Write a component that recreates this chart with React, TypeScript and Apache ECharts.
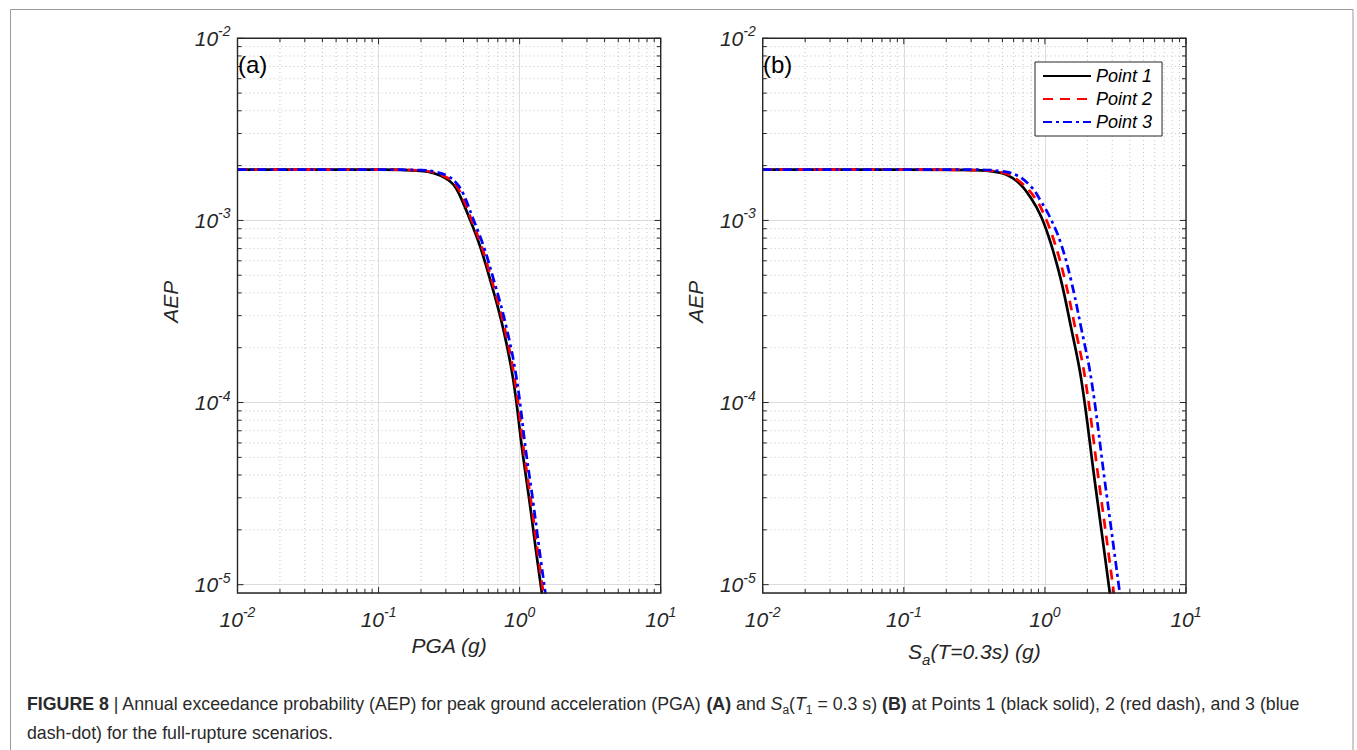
import React, { useEffect, useRef } from 'react';
import * as echarts from 'echarts';

// ---------------- data ----------------
// Panel (a): PGA (g) vs AEP
const PGA_P1_X = [0.01, 0.1, 0.2, 0.25, 0.3, 0.34, 0.375, 0.44, 0.52, 0.61, 0.76, 0.9, 1.05, 1.18, 1.3, 1.44];
const PGA_P1_Y = [1.9e-3, 1.9e-3, 1.87e-3, 1.81e-3, 1.7e-3, 1.57e-3, 1.38e-3, 1.03e-3, 7.34e-4, 4.9e-4, 2.6e-4, 1.34e-4, 5.3e-5, 2.8e-5, 1.58e-5, 8.9e-6];
const PGA_P2_X = [0.01, 0.1, 0.2, 0.25, 0.305, 0.347, 0.384, 0.451, 0.533, 0.625, 0.779, 0.923, 1.076, 1.21, 1.333, 1.476];
const PGA_P2_Y = [1.9e-3, 1.9e-3, 1.88e-3, 1.83e-3, 1.72e-3, 1.59e-3, 1.4e-3, 1.03e-3, 7.34e-4, 4.9e-4, 2.6e-4, 1.34e-4, 5.3e-5, 2.8e-5, 1.58e-5, 8.9e-6];
const PGA_P3_X = [0.01, 0.1, 0.2, 0.25, 0.31, 0.357, 0.397, 0.466, 0.551, 0.646, 0.805, 0.953, 1.112, 1.25, 1.377, 1.525];
const PGA_P3_Y = [1.9e-3, 1.9e-3, 1.89e-3, 1.85e-3, 1.75e-3, 1.6e-3, 1.41e-3, 1.03e-3, 7.34e-4, 4.9e-4, 2.6e-4, 1.34e-4, 5.3e-5, 2.8e-5, 1.58e-5, 8.9e-6];

// Panel (b): Sa(T=0.3s) (g) vs AEP
const SA_P1_X = [0.01, 0.1, 0.3, 0.49, 0.64, 0.8, 0.94, 1.1, 1.3, 1.53, 1.81, 2.25, 2.55, 2.89];
const SA_P1_Y = [1.9e-3, 1.9e-3, 1.89e-3, 1.82e-3, 1.63e-3, 1.32e-3, 1.05e-3, 7.5e-4, 4.7e-4, 2.6e-4, 1.34e-4, 3.77e-5, 1.84e-5, 8.9e-6];
const SA_P2_X = [0.01, 0.1, 0.3, 0.5, 0.66, 0.85, 1.0, 1.175, 1.388, 1.634, 1.933, 2.403, 2.723, 3.087];
const SA_P2_Y = [1.9e-3, 1.9e-3, 1.89e-3, 1.83e-3, 1.64e-3, 1.33e-3, 1.05e-3, 7.5e-4, 4.7e-4, 2.6e-4, 1.34e-4, 3.77e-5, 1.84e-5, 8.9e-6];
const SA_P3_X = [0.01, 0.1, 0.3, 0.5, 0.64, 0.8, 0.94, 1.1, 1.296, 1.531, 1.802, 2.132, 2.65, 3.0, 3.4];
const SA_P3_Y = [1.9e-3, 1.9e-3, 1.9e-3, 1.86e-3, 1.76e-3, 1.53e-3, 1.27e-3, 1.02e-3, 7.5e-4, 4.7e-4, 2.6e-4, 1.34e-4, 3.77e-5, 1.84e-5, 8.9e-6];

const SERIES_NAMES = ['Point 1', 'Point 2', 'Point 3'];
const PANEL_LABELS = ['(a)', '(b)'];
const X_DECADES = [0.01, 0.1, 1, 10];
const Y_DECADES = [1e-5, 1e-4, 1e-3, 1e-2];
const MINOR_MULTS = [2, 3, 4, 5, 6, 7, 8, 9];

// ---------------- layout / style ----------------
const X_MIN = 0.01;
const X_MAX = 10;
const Y_MIN = 9e-6;
const Y_MAX = 1e-2;
const FONT = "'Liberation Sans', Arial, Helvetica, sans-serif";
const AX = '#262626';
const GRIDS = [
  { left: 237.5, top: 38.3, width: 423.2, height: 554.7 },
  { left: 762.7, top: 38.3, width: 423.3, height: 554.7 },
];
const COLORS = ['#000000', '#ff0000', '#0000ff'];
const DASHES: any[] = ['solid', [10, 7], [9, 4, 3, 4]];

const zip = (xs: number[], ys: number[]) => xs.map((x, i) => [x, ys[i]]);

const minorX: number[] = [];
X_DECADES.slice(0, -1).forEach((d) => MINOR_MULTS.forEach((m) => minorX.push(d * m)));
const minorY: number[] = [];
Y_DECADES.slice(0, -1).forEach((d) => MINOR_MULTS.forEach((m) => minorY.push(d * m)));

const minorGridData = [
  ...minorX.map((v) => [v, 1e-3, 0]),
  ...minorY.map((v) => [1, v, 1]),
];
const frameData = [
  ...X_DECADES.map((v) => [v, 1e-3, 0, 1]),
  ...minorX.map((v) => [v, 1e-3, 0, 0]),
  ...Y_DECADES.map((v) => [1, v, 1, 1]),
  ...minorY.map((v) => [1, v, 1, 0]),
  [1, 1e-3, 2, 0],
];

const decadeLabel = (v: number) => {
  const l = Math.log10(v);
  const e = Math.round(l);
  if (Math.abs(l - e) > 1e-6) return '';
  return `{b|10}{s|${e}}`;
};

const tickRich = {
  b: { fontSize: 21, fontStyle: 'italic', fontFamily: FONT, color: AX, lineHeight: 28, verticalAlign: 'middle' },
  s: { fontSize: 14, fontStyle: 'italic', fontFamily: FONT, color: AX, lineHeight: 12, verticalAlign: 'top' },
};

const nameRich = {
  i: { fontSize: 21, fontStyle: 'italic', fontFamily: FONT, color: AX, lineHeight: 32, verticalAlign: 'middle' },
  sub: { fontSize: 15, fontStyle: 'italic', fontFamily: FONT, color: AX, lineHeight: 10, verticalAlign: 'bottom' },
};

function makeMinorGrid(p: number) {
  return {
    type: 'custom',
    xAxisIndex: p,
    yAxisIndex: p,
    silent: true,
    z: 1,
    data: minorGridData,
    encode: { x: 0, y: 1 },
    renderItem: (params: any, api: any) => {
      const kind = api.value(2);
      let a, b;
      if (kind === 0) {
        const v = api.value(0);
        a = api.coord([v, Y_MIN]);
        b = api.coord([v, Y_MAX]);
      } else {
        const v = api.value(1);
        a = api.coord([X_MIN, v]);
        b = api.coord([X_MAX, v]);
      }
      return {
        type: 'line',
        shape: { x1: a[0], y1: a[1], x2: b[0], y2: b[1] },
        style: { stroke: '#c4c4c4', lineWidth: 1, lineDash: [1, 3] },
      };
    },
  };
}

function makeFrame(p: number) {
  return {
    type: 'custom',
    xAxisIndex: p,
    yAxisIndex: p,
    silent: true,
    z: 5,
    data: frameData,
    encode: { x: 0, y: 1 },
    renderItem: (params: any, api: any) => {
      const kind = api.value(2);
      const len = api.value(3) === 1 ? 6 : 4;
      const st = { stroke: AX, lineWidth: 1 };
      if (kind === 0) {
        const v = api.value(0);
        const a = api.coord([v, Y_MIN]);
        const b = api.coord([v, Y_MAX]);
        return {
          type: 'group',
          children: [
            { type: 'line', shape: { x1: a[0], y1: a[1], x2: a[0], y2: a[1] - len }, style: st },
            { type: 'line', shape: { x1: b[0], y1: b[1], x2: b[0], y2: b[1] + len }, style: st },
          ],
        };
      }
      if (kind === 1) {
        const v = api.value(1);
        const a = api.coord([X_MIN, v]);
        const b = api.coord([X_MAX, v]);
        return {
          type: 'group',
          children: [
            { type: 'line', shape: { x1: a[0], y1: a[1], x2: a[0] + len, y2: a[1] }, style: st },
            { type: 'line', shape: { x1: b[0], y1: b[1], x2: b[0] - len, y2: b[1] }, style: st },
          ],
        };
      }
      const tl = api.coord([X_MIN, Y_MAX]);
      const br = api.coord([X_MAX, Y_MIN]);
      return {
        type: 'rect',
        shape: { x: tl[0], y: tl[1], width: br[0] - tl[0], height: br[1] - tl[1] },
        style: { fill: 'none', stroke: AX, lineWidth: 1.4 },
      };
    },
  };
}

function makeLine(p: number, k: number, xs: number[], ys: number[]) {
  return {
    type: 'line',
    name: SERIES_NAMES[k],
    xAxisIndex: p,
    yAxisIndex: p,
    data: zip(xs, ys),
    symbol: 'none',
    showSymbol: false,
    smooth: 0.4,
    clip: true,
    z: 2 + k * 0.1,
    lineStyle: { color: COLORS[k], width: 2.7, type: DASHES[k], cap: 'butt' },
    itemStyle: { color: COLORS[k] },
    emphasis: { disabled: true },
  };
}

function makeXAxis(p: number, name: string) {
  return {
    type: 'log',
    logBase: 10,
    gridIndex: p,
    min: X_MIN,
    max: X_MAX,
    axisLine: { show: false },
    axisTick: { show: false },
    minorTick: { show: false },
    axisLabel: { formatter: decadeLabel, rich: tickRich, margin: 12 },
    splitLine: { show: true, lineStyle: { color: '#dcdcdc', width: 1 } },
    name,
    nameLocation: 'middle',
    nameGap: 42,
    nameTextStyle: { rich: nameRich, fontFamily: FONT, fontStyle: 'italic', fontSize: 21, color: AX },
  };
}

function makeYAxis(p: number) {
  return {
    type: 'log',
    logBase: 10,
    gridIndex: p,
    min: Y_MIN,
    max: Y_MAX,
    axisLine: { show: false },
    axisTick: { show: false },
    minorTick: { show: false },
    axisLabel: { formatter: decadeLabel, rich: tickRich, margin: 7 },
    splitLine: { show: true, lineStyle: { color: '#dcdcdc', width: 1 } },
    name: 'AEP',
    nameLocation: 'middle',
    nameGap: 57,
    nameTextStyle: {
      fontFamily: FONT,
      fontStyle: 'italic',
      fontSize: 21,
      color: AX,
      padding: [0, 0, 0, 28],
    },
  };
}

const CAP_FS = 17.75;
const capRich = {
  b: { fontSize: CAP_FS, fontWeight: 'bold', fontFamily: FONT, color: '#2a2a2a', lineHeight: 24 },
  i: { fontSize: CAP_FS, fontStyle: 'italic', fontFamily: FONT, color: '#2a2a2a', lineHeight: 24 },
  n: { fontSize: CAP_FS, fontFamily: FONT, color: '#2a2a2a', lineHeight: 24 },
  sub: { fontSize: 12, fontStyle: 'normal', fontFamily: FONT, color: '#2a2a2a', lineHeight: 11, verticalAlign: 'bottom' },
};

const CAPTION_1 =
  '{b|FIGURE 8}{n| | Annual exceedance probability (AEP) for peak ground acceleration (PGA) }{b|(A)}{n| and }{i|S}{sub|a}{n|(}{i|T}{sub|1}{n| = 0.3 s) }{b|(B)}{n| at Points 1 (black solid), 2 (red dash), and 3 (blue}';
const CAPTION_2 = '{n|dash-dot) for the full-rupture scenarios.}';

export default function App() {
  const ref = useRef<HTMLDivElement>(null);
  useEffect(() => {
    if (!ref.current) return;
    const chart = echarts.init(ref.current, undefined, { renderer: 'svg' });
    const option: any = {
      animation: false,
      backgroundColor: '#ffffff',
      textStyle: { fontFamily: FONT },
      grid: GRIDS.map((g) => ({ ...g, containLabel: false })),
      xAxis: [makeXAxis(0, 'PGA (g)'), makeXAxis(1, '{i|S}{sub|a}{i|(T=0.3s) (g)}')],
      yAxis: [makeYAxis(0), makeYAxis(1)],
      legend: {
        show: true,
        data: SERIES_NAMES,
        left: 1035,
        top: 62,
        orient: 'vertical',
        itemWidth: 48,
        itemHeight: 14,
        itemGap: 5,
        padding: [5, 10, 5, 7],
        borderColor: AX,
        borderWidth: 1,
        backgroundColor: '#ffffff',
        selectedMode: false,
        itemStyle: { opacity: 0, color: 'transparent', borderColor: 'transparent', borderWidth: 0 },
        textStyle: { fontFamily: FONT, fontStyle: 'italic', fontSize: 18, color: '#000' },
        z: 10,
      },
      series: [
        makeMinorGrid(0),
        makeLine(0, 0, PGA_P1_X, PGA_P1_Y),
        makeLine(0, 1, PGA_P2_X, PGA_P2_Y),
        makeLine(0, 2, PGA_P3_X, PGA_P3_Y),
        makeFrame(0),
        makeMinorGrid(1),
        makeLine(1, 0, SA_P1_X, SA_P1_Y),
        makeLine(1, 1, SA_P2_X, SA_P2_Y),
        makeLine(1, 2, SA_P3_X, SA_P3_Y),
        makeFrame(1),
      ],
      graphic: [
        {
          type: 'rect',
          silent: true,
          z: -10,
          shape: { x: 10.5, y: 9.5, width: 1342.5, height: 760 },
          style: { fill: 'none', stroke: '#9a9a9a', lineWidth: 1 },
        },
        {
          type: 'text',
          x: 238,
          y: 52,
          z: 20,
          style: { text: PANEL_LABELS[0], fontSize: 24, fontFamily: FONT, fill: '#000', verticalAlign: 'top' },
        },
        {
          type: 'text',
          x: 763,
          y: 52,
          z: 20,
          style: { text: PANEL_LABELS[1], fontSize: 24, fontFamily: FONT, fill: '#000', verticalAlign: 'top' },
        },
        {
          type: 'text',
          x: 27,
          y: 704,
          z: 20,
          style: { text: CAPTION_1, rich: capRich, fontSize: CAP_FS, fontFamily: FONT, fill: '#2a2a2a', verticalAlign: 'middle' },
        },
        {
          type: 'text',
          x: 27,
          y: 733,
          z: 20,
          style: { text: CAPTION_2, rich: capRich, fontSize: CAP_FS, fontFamily: FONT, fill: '#2a2a2a', verticalAlign: 'middle' },
        },
      ],
    };
    chart.setOption(option);
    return () => chart.dispose();
  }, []);
  return (
    <div
      ref={ref}
      style={{ position: 'absolute', left: 0, top: 0, width: 1357, height: 750, background: '#fff' }}
    />
  );
}
